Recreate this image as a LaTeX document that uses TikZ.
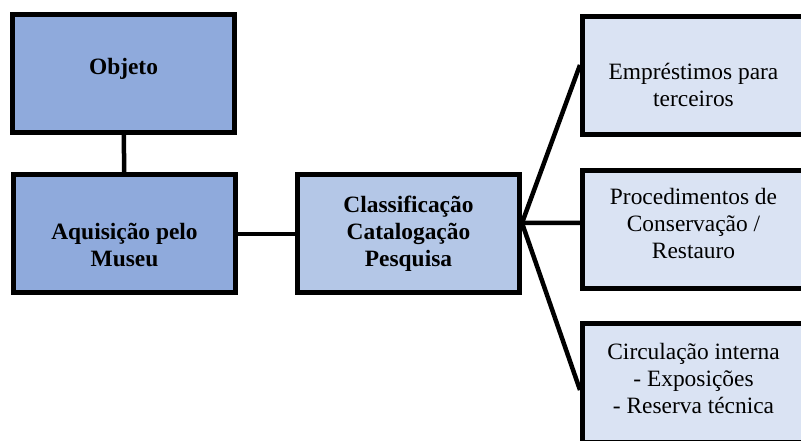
\documentclass[tikz,border=0pt]{standalone}
\usepackage{fontspec}
\setmainfont{Liberation Serif}
\usetikzlibrary{positioning}
\definecolor{azulescuro}{HTML}{8FAADC}
\definecolor{azulmedio}{HTML}{B4C7E7}
\definecolor{azulclaro}{HTML}{DAE3F3}
% ajuste vertical do texto dentro das caixas
\newcommand{\desce}[1]{\rule{0pt}{#1}}
\newcommand{\sobe}[1]{\rule[-#1]{0pt}{0pt}}

\begin{document}
\begin{tikzpicture}
	[x=1bp, y=-1bp, font=\fontsize{23.5}{27}\selectfont,
	caixa/.style		= {draw, rectangle, line width=5bp, inner sep=0pt, align=center, minimum width=222bp, minimum height=118bp},
	escura/.style		= {caixa, fill=azulescuro, font=\fontsize{23.5}{27}\selectfont\bfseries},
	media/.style		= {caixa, fill=azulmedio, font=\fontsize{23.5}{27}\selectfont\bfseries},
	clara/.style		= {caixa, fill=azulclaro},
	ligacao/.style		= {line width=4.5bp}]

	\useasboundingbox [fill=white] (0,0) rectangle (801,441);

	% coluna da esquerda
	\node [escura]	at (123.5,73.5)		(obj)	{Objeto\sobe{15bp}};
	\node [escura]	at (124.5,234)		(aqu)	{\desce{38bp}Aquisição pelo\\Museu};
	\node [media]	at (408.5,234)		(cls)	{Classificação\\Catalogação\\Pesquisa};

	% destinos
	\node [clara]	at (693.5,76)		(emp)	{\desce{34bp}Empréstimos para\\terceiros};
	\node [clara]	at (693.5,230)		(cons)	{Procedimentos de\\Conservação /\\Restauro\sobe{14bp}};
	\node [clara]	at (693.5,383)		(circ)	{Circulação interna\\- Exposições\\- Reserva técnica\sobe{10bp}};

	\coordinate (leque) at ([yshift=11bp]cls.east);

	\draw [ligacao] (obj) -- (aqu);
	\draw [ligacao] (aqu) -- (cls);
	\draw [ligacao] (leque) -- ([yshift=11bp]emp.west);
	\draw [ligacao] (leque) -- ([yshift=7bp]cons.west);
	\draw [ligacao] (leque) -- ([yshift=-7bp]circ.west);
\end{tikzpicture}
\end{document}
